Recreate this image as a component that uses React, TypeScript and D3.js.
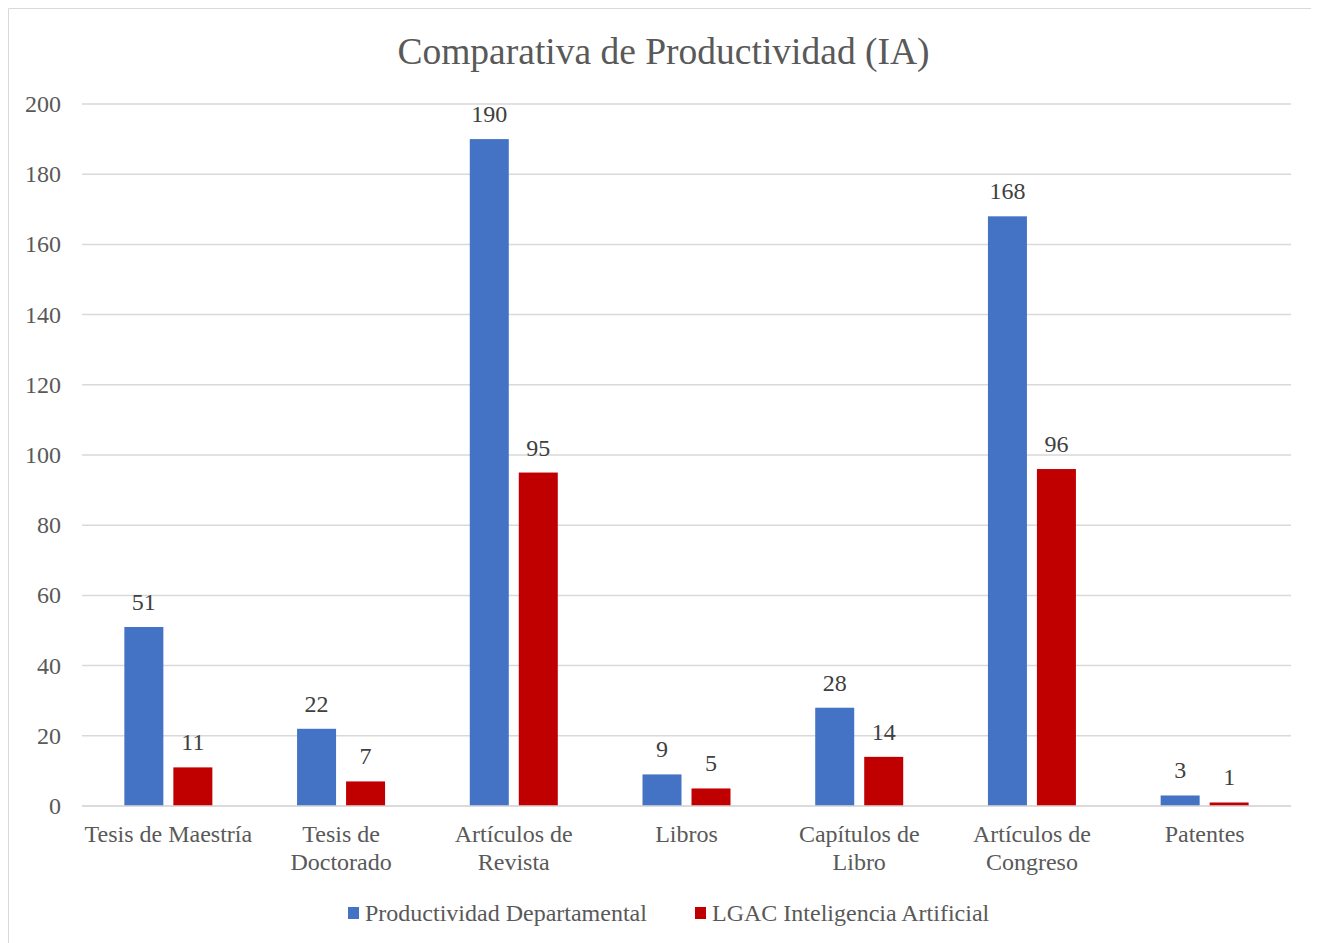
import React, { useEffect } from "react";
import * as d3 from "d3";

const categories = [
  ["Tesis de Maestría"],
  ["Tesis de", "Doctorado"],
  ["Artículos de", "Revista"],
  ["Libros"],
  ["Capítulos de", "Libro"],
  ["Artículos de", "Congreso"],
  ["Patentes"],
];
const seriesNames = ["Productividad Departamental", "LGAC Inteligencia Artificial"];
const departamental = [51, 22, 190, 9, 28, 168, 3];
const lgac = [11, 7, 95, 5, 14, 96, 1];
const yTicks = [0, 20, 40, 60, 80, 100, 120, 140, 160, 180, 200];
const colors = ["#4472C4", "#C00000"];

export default function App() {
  useEffect(() => {
    document.documentElement.style.overflow = "hidden";
    document.body.style.overflow = "hidden";
  }, []);
  const W = 1345;
  const H = 960;
  const left = 74;
  const right = 1283;
  const top = 96;
  const bottom = 798;
  const font = "'Liberation Serif', 'Times New Roman', serif";
  const x = d3
    .scaleBand<number>()
    .domain(d3.range(categories.length))
    .range([left, right])
    .paddingInner(0)
    .paddingOuter(0);
  const y = d3.scaleLinear().domain([0, 200]).range([bottom, top]);
  const barW = 39;
  const gap = 10;
  const series = [departamental, lgac];

  return (
    <svg width={W} height={H} style={{ display: "block", overflow: "visible" }}>
      <rect x={0} y={0} width={W} height={H} fill="#fff" />
      <path d={`M0.5,${H} V0.5 H${W}`} fill="none" stroke="#d9d9d9" />
      <text x={655.5} y={56} textAnchor="middle" fontFamily={font} fontSize={37.5} fill="#595959">
        Comparativa de Productividad (IA)
      </text>
      {yTicks.map((t) => (
        <g key={t}>
          <line x1={left} x2={right} y1={y(t)} y2={y(t)} stroke="#d9d9d9" strokeWidth={1.5} />
          <text x={53} y={y(t) + 8} textAnchor="end" fontFamily={font} fontSize={24} fill="#595959">
            {t}
          </text>
        </g>
      ))}
      {categories.map((c, i) => {
        const cx = (x(i) as number) + x.bandwidth() / 2;
        return (
          <g key={i}>
            {series.map((s, k) => {
              const bx = k === 0 ? cx - gap / 2 - barW : cx + gap / 2;
              return (
                <g key={k}>
                  <rect x={bx} y={y(s[i])} width={barW} height={y(0) - y(s[i])} fill={colors[k]} />
                  <text x={bx + barW / 2} y={y(s[i]) - 17} textAnchor="middle" fontFamily={font} fontSize={24} fill="#404040">
                    {s[i]}
                  </text>
                </g>
              );
            })}
            {c.map((line, j) => (
              <text key={j} x={cx} y={834 + j * 28} textAnchor="middle" fontFamily={font} fontSize={24} fill="#595959">
                {line}
              </text>
            ))}
          </g>
        );
      })}
      <line x1={left} x2={right} y1={y(0)} y2={y(0)} stroke="#d9d9d9" strokeWidth={1.5} />
      {seriesNames.map((n, k) => {
        const lx = k === 0 ? 340 : 687;
        return (
          <g key={n}>
            <rect x={lx} y={899} width={11} height={12} fill={colors[k]} />
            <text x={lx + 17} y={913} fontFamily={font} fontSize={24} fill="#595959">
              {n}
            </text>
          </g>
        );
      })}
    </svg>
  );
}
